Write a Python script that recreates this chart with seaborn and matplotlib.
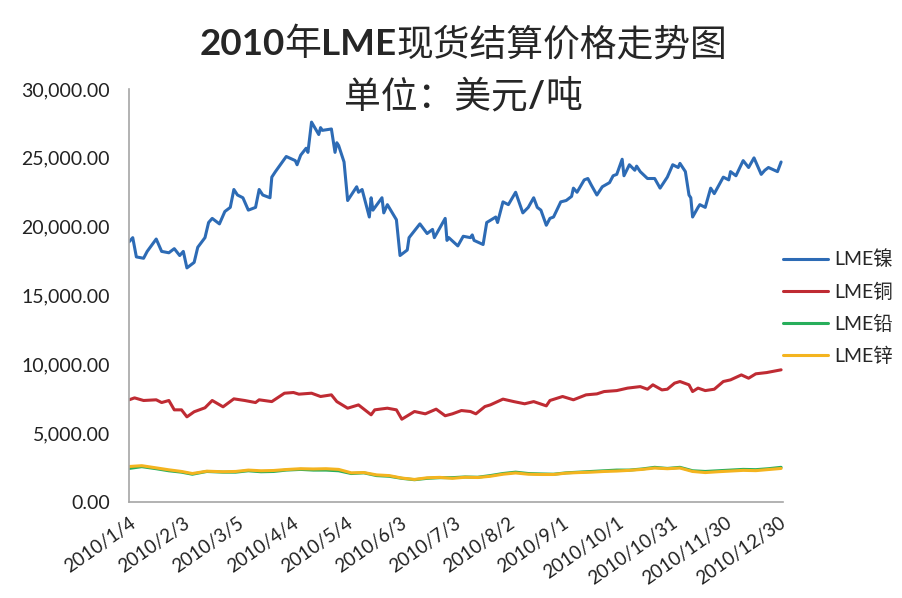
import pandas as pd
import seaborn as sns
import matplotlib.pyplot as plt
import matplotlib.dates as mdates
from matplotlib.ticker import FuncFormatter
import numpy as np

# LME nickel (thousand USD/t)
nickel_dates = ["01-04", "01-06", "01-08", "01-12", "01-14", "01-19", "01-22", "01-26", "01-29", "02-01",
                "02-03", "02-05", "02-09", "02-11", "02-15", "02-17", "02-19", "02-23", "02-26", "03-01",
                "03-03", "03-05", "03-08", "03-11", "03-15", "03-17", "03-19", "03-23", "03-24", "03-26",
                "04-01", "04-06", "04-07", "04-09", "04-12", "04-13", "04-15", "04-19", "04-20", "04-21",
                "04-26", "04-28", "04-29", "04-30", "05-03", "05-05", "05-10", "05-11", "05-13", "05-17",
                "05-18", "05-19", "05-24", "05-25", "05-27", "06-01", "06-03", "06-07", "06-08", "06-14",
                "06-18", "06-21", "06-22", "06-28", "06-29", "06-30", "07-05", "07-08", "07-12", "07-13",
                "07-14", "07-19", "07-21", "07-26", "07-27", "07-30", "08-02", "08-06", "08-10", "08-13",
                "08-16", "08-18", "08-20", "08-23", "08-25", "08-27", "08-31", "09-03", "09-06", "09-07",
                "09-09", "09-13", "09-15", "09-17", "09-20", "09-23", "09-27", "09-29", "10-01", "10-04",
                "10-05", "10-08", "10-11", "10-12", "10-14", "10-18", "10-22", "10-25", "10-26", "10-29",
                "11-01", "11-04", "11-05", "11-08", "11-10", "11-11", "11-12", "11-15", "11-16", "11-19",
                "11-22", "11-24", "11-29", "12-02", "12-03", "12-06", "12-10", "12-13", "12-16", "12-20",
                "12-22", "12-24", "12-29", "12-31"]
nickel = [18.9, 19.2, 17.8, 17.7, 18.2, 19.1, 18.2, 18.1, 18.4, 17.9,
          18.2, 17.0, 17.4, 18.5, 19.2, 20.3, 20.6, 20.2, 21.1, 21.4,
          22.7, 22.3, 22.1, 21.2, 21.4, 22.7, 22.3, 22.1, 23.6, 24.0,
          25.1, 24.8, 24.5, 25.2, 25.7, 25.4, 27.6, 26.7, 27.2, 27.0,
          27.1, 25.4, 26.1, 25.9, 24.7, 21.9, 22.9, 22.5, 22.7, 20.7,
          22.1, 21.2, 22.1, 21.0, 21.6, 20.5, 17.9, 18.3, 19.2, 20.2,
          19.5, 19.8, 19.2, 20.6, 19.0, 19.2, 18.6, 19.3, 19.2, 19.4,
          19.0, 18.7, 20.3, 20.7, 20.3, 21.8, 21.6, 22.5, 21.0, 21.4,
          22.1, 21.4, 21.2, 20.1, 20.6, 20.7, 21.8, 21.9, 22.2, 22.8,
          22.5, 23.4, 23.5, 23.0, 22.3, 22.9, 23.2, 23.7, 23.8, 24.9,
          23.7, 24.5, 24.1, 24.4, 24.0, 23.5, 23.5, 22.8, 23.0, 23.6,
          24.5, 24.3, 24.6, 24.0, 22.3, 22.1, 20.7, 21.4, 21.6, 21.4,
          22.8, 22.4, 23.6, 23.4, 24.0, 23.7, 24.8, 24.3, 25.0, 23.8,
          24.1, 24.3, 24.0, 24.7]

# LME copper
copper_dates = ["01-04", "01-07", "01-12", "01-19", "01-22", "01-26", "01-29", "02-02", "02-05", "02-09",
                "02-15", "02-19", "02-25", "03-03", "03-09", "03-15", "03-17", "03-24", "03-31", "04-05",
                "04-08", "04-15", "04-20", "04-26", "04-29", "05-05", "05-11", "05-18", "05-20", "05-24",
                "05-27", "06-01", "06-04", "06-11", "06-17", "06-23", "06-28", "07-02", "07-07", "07-12",
                "07-15", "07-20", "07-23", "07-30", "08-05", "08-11", "08-16", "08-23", "08-25", "09-01",
                "09-07", "09-14", "09-20", "09-24", "10-01", "10-07", "10-14", "10-18", "10-21", "10-26",
                "10-29", "11-02", "11-05", "11-10", "11-12", "11-15", "11-19", "11-24", "11-29", "12-03",
                "12-09", "12-13", "12-17", "12-23", "12-31"]
copper = [7.41, 7.55, 7.36, 7.41, 7.21, 7.36, 6.68, 6.68, 6.17, 6.54,
          6.83, 7.36, 6.90, 7.48, 7.36, 7.21, 7.41, 7.28, 7.89, 7.94,
          7.82, 7.89, 7.65, 7.77, 7.28, 6.80, 7.04, 6.32, 6.68, 6.75,
          6.80, 6.68, 6.00, 6.56, 6.39, 6.73, 6.25, 6.39, 6.63, 6.56,
          6.39, 6.92, 7.04, 7.46, 7.28, 7.12, 7.28, 6.97, 7.36, 7.65,
          7.41, 7.77, 7.84, 8.01, 8.08, 8.26, 8.37, 8.18, 8.50, 8.13,
          8.18, 8.62, 8.74, 8.50, 8.01, 8.26, 8.08, 8.18, 8.74, 8.86,
          9.22, 8.98, 9.30, 9.39, 9.59]

# LME lead and zinc (same dates)
lz_dates = ["01-04", "01-11", "01-19", "01-26", "02-02", "02-08", "02-16", "02-25", "03-04", "03-11",
            "03-18", "03-25", "04-01", "04-09", "04-16", "04-23", "04-30", "05-07", "05-14", "05-21",
            "05-28", "06-04", "06-11", "06-18", "06-25", "07-02", "07-09", "07-16", "07-23", "07-30",
            "08-06", "08-13", "08-20", "08-27", "09-03", "09-10", "09-17", "09-24", "10-01", "10-08",
            "10-15", "10-22", "10-29", "11-05", "11-12", "11-19", "11-26", "12-03", "12-10", "12-17",
            "12-24", "12-31"]
lead = [2.42, 2.55, 2.40, 2.25, 2.15, 2.00, 2.20, 2.15, 2.15, 2.25,
        2.18, 2.20, 2.30, 2.35, 2.30, 2.30, 2.25, 2.05, 2.10, 1.90,
        1.85, 1.70, 1.60, 1.70, 1.75, 1.75, 1.80, 1.78, 1.90, 2.05,
        2.15, 2.05, 2.02, 2.00, 2.10, 2.15, 2.20, 2.25, 2.30, 2.30,
        2.38, 2.50, 2.42, 2.50, 2.25, 2.20, 2.25, 2.30, 2.35, 2.33,
        2.40, 2.50]
zinc = [2.56, 2.62, 2.46, 2.32, 2.20, 2.05, 2.22, 2.18, 2.20, 2.30,
        2.25, 2.27, 2.34, 2.40, 2.38, 2.40, 2.35, 2.10, 2.12, 1.95,
        1.90, 1.72, 1.62, 1.74, 1.77, 1.70, 1.78, 1.76, 1.85, 2.00,
        2.09, 2.00, 1.98, 1.98, 2.08, 2.12, 2.15, 2.20, 2.23, 2.28,
        2.35, 2.45, 2.40, 2.45, 2.20, 2.12, 2.18, 2.23, 2.28, 2.26,
        2.34, 2.42]

series = [("LME镍", nickel_dates, nickel, "#2D6BB5"),
          ("LME铜", copper_dates, copper, "#BF2B33"),
          ("LME铅", lz_dates, lead, "#27AE5B"),
          ("LME锌", lz_dates, zinc, "#F4B41F")]

sns.set_style("white")
plt.rcParams['font.family'] = ['Lato', 'Noto Sans CJK SC', 'DejaVu Sans']

fig = plt.figure(figsize=(9.03, 5.98), dpi=100)
ax = fig.add_axes([0.143, 0.161, 0.724, 0.690])

for name, dates, vals, color in series:
    d = pd.DataFrame({"date": pd.to_datetime(["2010-" + s for s in dates]),
                      "price": np.array(vals) * 1000})
    sns.lineplot(data=d, x="date", y="price", ax=ax, color=color, linewidth=2.2, label=name)

start = pd.Timestamp("2010-01-04")
ticks = [start + pd.Timedelta(days=30 * i) for i in range(13)]
ax.set_xticks(ticks)
ax.xaxis.set_major_formatter(FuncFormatter(
    lambda v, p: "{0.year}/{0.month}/{0.day}".format(mdates.num2date(v))))
ax.set_xlim(start, pd.Timestamp("2011-01-01"))
ax.set_ylim(0, 30000)
ax.set_yticks(np.arange(0, 30001, 5000))
ax.yaxis.set_major_formatter(FuncFormatter(lambda v, p: "{:,.2f}".format(v)))
ax.set_xlabel("")
ax.set_ylabel("")

for s in ["top", "right"]:
    ax.spines[s].set_visible(False)
for s in ["left", "bottom"]:
    ax.spines[s].set_color("#A6A6A6")
    ax.spines[s].set_linewidth(1.2)
ax.tick_params(axis="y", length=0, pad=14, labelsize=14, labelcolor="#222222")
ax.tick_params(axis="x", length=6, width=1.2, color="#A6A6A6", direction="out",
               labelsize=13.5, labelcolor="#222222", pad=3)
for lbl in ax.get_xticklabels():
    lbl.set_rotation(35)
    lbl.set_ha("right")
    lbl.set_rotation_mode("anchor")

ax.get_legend().remove()
handles, labels = ax.get_legend_handles_labels()
fig.legend(handles, labels, loc="center left", bbox_to_anchor=(0.848, 0.486),
           frameon=False, fontsize=14, handlelength=2.3, labelspacing=0.72,
           handletextpad=0.3)


# title: bold latin runs, medium CJK runs, centred as one line
def title_line(y, runs, size=26.5, xc=0.513):
    renderer = fig.canvas.get_renderer()
    texts = []
    for s, bold in runs:
        if bold:
            t = fig.text(0, y, s, va="center", fontsize=size, fontweight="bold", family=['Lato'])
        else:
            t = fig.text(0, y, s, va="center", fontsize=size, fontweight=500,
                         family=['Noto Sans CJK SC'])
        texts.append(t)
    widths = [t.get_window_extent(renderer).width / fig.bbox.width for t in texts]
    x = xc - sum(widths) / 2
    for t, w in zip(texts, widths):
        t.set_x(x)
        x += w


title_line(0.925, [("2010", True), ("年", False), ("LME", True), ("现货结算价格走势图", False)])
title_line(0.838, [("单位：美元", False), ("/", True), ("吨", False)])

fig.savefig("out.png", dpi=100, facecolor="white")
